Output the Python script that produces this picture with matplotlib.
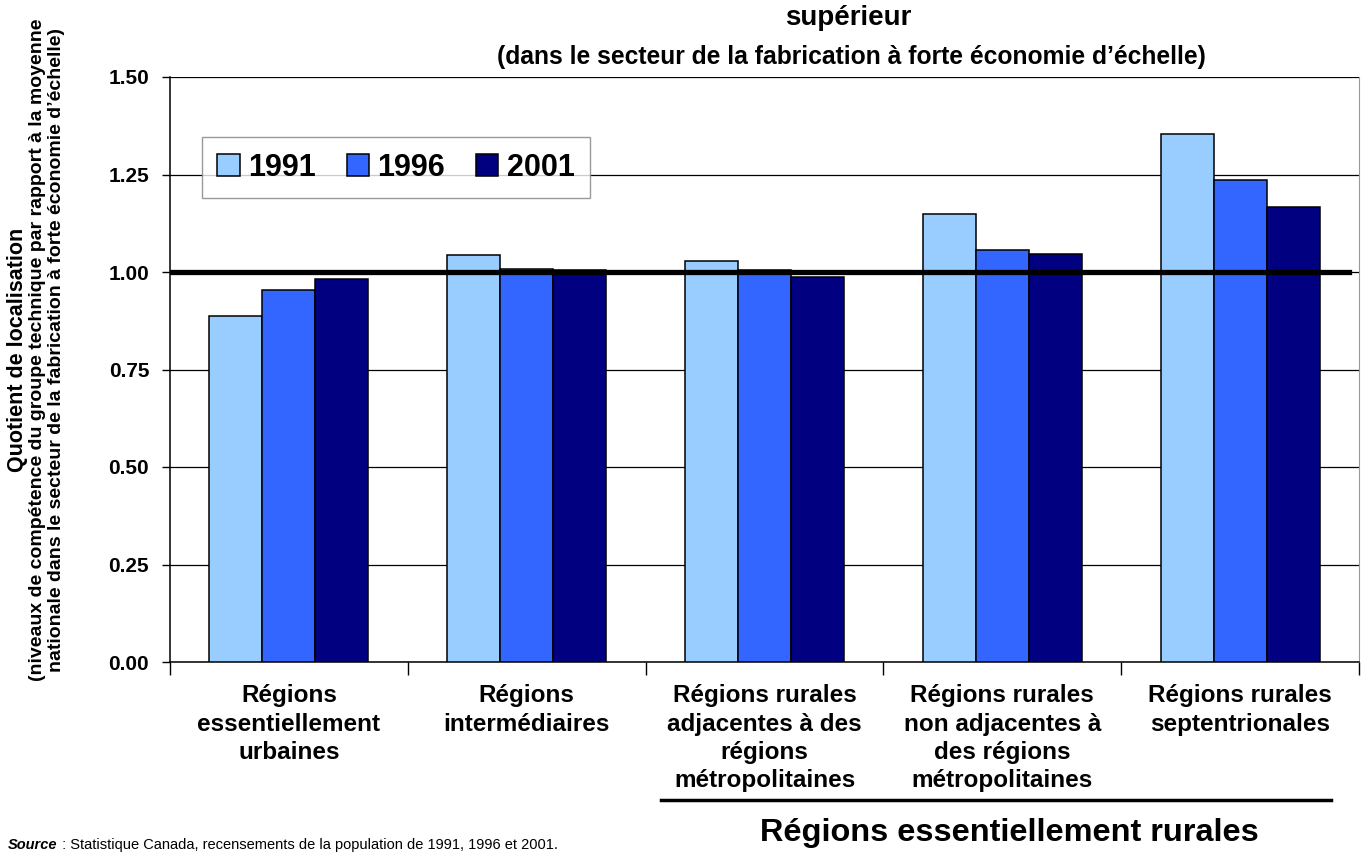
import numpy as np
import matplotlib
matplotlib.use("Agg")
import matplotlib.pyplot as plt
from matplotlib.lines import Line2D

plt.rcParams['font.family'] = ['Liberation Sans', 'DejaVu Sans']

categories = ["Régions\nessentiellement\nurbaines",
              "Régions\nintermédiaires",
              "Régions rurales\nadjacentes à des\nrégions\nmétropolitaines",
              "Régions rurales\nnon adjacentes à\ndes régions\nmétropolitaines",
              "Régions rurales\nseptentrionales"]
years = ["1991", "1996", "2001"]
v1991 = [0.887, 1.044, 1.029, 1.148, 1.355]
v1996 = [0.953, 1.008, 1.005, 1.056, 1.236]
v2001 = [0.981, 1.004, 0.988, 1.045, 1.166]
yticks = [0.0, 0.25, 0.50, 0.75, 1.00, 1.25, 1.50]
colors = ["#99CCFF", "#3366FF", "#000080"]

W, H = 1366, 856
fig = plt.figure(figsize=(W / 100, H / 100), dpi=100)
ax = fig.add_axes([170 / W, 1 - 662 / H, 1189 / W, 585 / H])

x = np.arange(len(categories))
w = 0.223
for i, vals in enumerate([v1991, v1996, v2001]):
    ax.bar(x + (i - 1) * w, vals, w, color=colors[i], edgecolor="black",
           linewidth=1.1, label=years[i], zorder=3)

# reference line at 1.00
ax.axhline(1.0, xmin=0, xmax=0.992, color="black", linewidth=3.8, zorder=4)

ax.set_xlim(-0.5, 4.5)
ax.set_ylim(0, 1.5)
ax.set_yticks(yticks)
ax.set_yticklabels(["%.2f" % t for t in yticks], fontsize=15, fontweight="bold")
ax.tick_params(axis="y", direction="out", length=6, width=1, pad=9)
ax.yaxis.grid(True, color="black", linewidth=0.9)
ax.set_axisbelow(True)

ax.set_xticks(x)
ax.set_xticklabels(categories, fontsize=17.5, fontweight="bold", linespacing=1.3)
ax.tick_params(axis="x", which="major", length=0, pad=16)
ax.set_xticks(np.arange(-0.5, 5, 1), minor=True)
ax.tick_params(axis="x", which="minor", direction="out", length=9, width=1)

for s in ["left", "bottom"]:
    ax.spines[s].set_color("black")
    ax.spines[s].set_linewidth(1.1)
ax.spines["top"].set_visible(False)
ax.spines["right"].set_color("#999999")

leg = ax.legend(ncol=3, loc="upper left", bbox_to_anchor=(0.027, 0.897),
                prop={"size": 22, "weight": "bold"}, fancybox=False,
                edgecolor="#808080", handlelength=0.74, handleheight=0.7,
                handletextpad=0.27, columnspacing=1.0, borderpad=0.5,
                borderaxespad=0)
leg.get_frame().set_linewidth(1.0)

# titles (first title line is cut off in the original)
fig.text(848 / W, 1 - 18 / H, "supérieur", ha="center", va="center",
         fontsize=20, fontweight="bold")
fig.text(851 / W, 1 - 57 / H,
         "(dans le secteur de la fabrication à forte économie d’échelle)",
         ha="center", va="center", fontsize=17.7, fontweight="bold")

# y label, three lines
fig.text(18 / W, 1 - 350 / H, "Quotient de localisation", rotation=90,
         ha="center", va="center", fontsize=15.5, fontweight="bold")
fig.text(38 / W, 1 - 350 / H,
         "(niveaux de compétence du groupe technique par rapport à la moyenne",
         rotation=90, ha="center", va="center", fontsize=14, fontweight="bold")
fig.text(57 / W, 1 - 350 / H,
         "nationale dans le secteur de la fabrication à forte économie d’échelle)",
         rotation=90, ha="center", va="center", fontsize=14, fontweight="bold")

# bracket under the rural regions
fig.add_artist(Line2D([661 / W, 1331 / W], [1 - 800 / H, 1 - 800 / H],
                      color="black", linewidth=2.5))
fig.text(1009 / W, 1 - 833 / H, "Régions essentiellement rurales",
         ha="center", va="center", fontsize=23.4, fontweight="bold")

src = fig.text(8 / W, 1 - 838 / H, "Source", ha="left", va="top",
               fontsize=10.5, fontweight="bold", style="italic")
fig.add_artist(plt.Annotation(
    " : Statistique Canada, recensements de la population de 1991, 1996 et 2001.",
    xy=(1, 1), xycoords=src, ha="left", va="top", fontsize=10.5))

fig.savefig("out.png", dpi=100)
